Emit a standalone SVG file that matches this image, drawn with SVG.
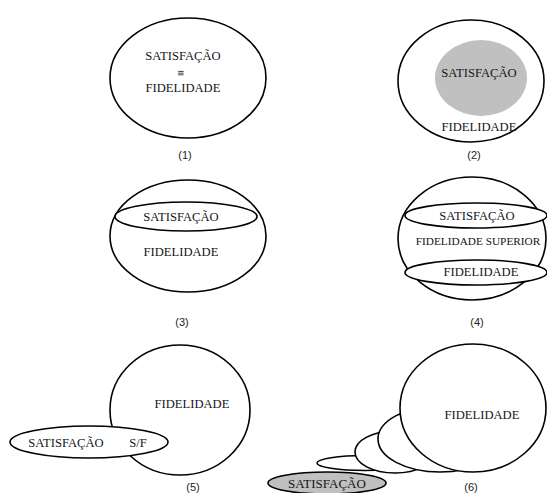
<svg xmlns="http://www.w3.org/2000/svg" width="547" height="493" viewBox="0 0 547 493">
<style>
.o{fill:#fff;stroke:#000;stroke-width:1.6}
.g{fill:#c0c0c0;stroke:none}
.gs{fill:#c0c0c0;stroke:#000;stroke-width:1.6}
.t{font-family:"Liberation Serif","Times New Roman",serif;font-size:12.6px;fill:#141420;text-anchor:middle}
.n{font-family:"Liberation Sans",Arial,sans-serif;font-size:11px;fill:#222;text-anchor:middle}
</style>
<rect width="547" height="493" fill="#fff"/>
<g id="panel1">
<ellipse class="o" cx="188" cy="78" rx="78" ry="60"/>
<text class="t" x="183" y="60">SATISFAÇÃO</text>
<text class="t" x="181" y="76" style="font-size:9px">≅</text>
<text class="t" x="183" y="92">FIDELIDADE</text>
<text class="n" x="185" y="159">(1)</text>
</g>
<g id="panel2">
<ellipse class="o" cx="471" cy="81" rx="73" ry="61"/>
<ellipse class="g" cx="481" cy="78" rx="46" ry="38"/>
<text class="t" x="479" y="77">SATISFAÇÃO</text>
<text class="t" x="479" y="131">FIDELIDADE</text>
<text class="n" x="474" y="159">(2)</text>
</g>
<g id="panel3">
<ellipse class="o" cx="188" cy="236" rx="78" ry="56"/>
<ellipse class="o" cx="186" cy="216.5" rx="71" ry="14.5"/>
<text class="t" x="181" y="221">SATISFAÇÃO</text>
<text class="t" x="181" y="256">FIDELIDADE</text>
<text class="n" x="182" y="326">(3)</text>
</g>
<g id="panel4">
<ellipse class="o" cx="472" cy="238.5" rx="74" ry="61.5"/>
<ellipse class="o" cx="476" cy="215.5" rx="71" ry="12.5"/>
<ellipse class="o" cx="476" cy="272.5" rx="71" ry="12.5"/>
<text class="t" x="477" y="220">SATISFAÇÃO</text>
<text class="t" x="478" y="245" style="font-size:11.3px">FIDELIDADE SUPERIOR</text>
<text class="t" x="481" y="276">FIDELIDADE</text>
<text class="n" x="477" y="326">(4)</text>
</g>
<g id="panel5">
<ellipse class="o" cx="180" cy="410" rx="70" ry="65"/>
<ellipse class="o" cx="89" cy="442" rx="79" ry="16"/>
<text class="t" x="66" y="447">SATISFAÇÃO</text>
<text class="t" x="138" y="447">S/F</text>
<text class="t" x="192" y="408">FIDELIDADE</text>
<text class="n" x="193" y="491">(5)</text>
</g>
<g id="panel6">
<ellipse class="o" cx="365" cy="463" rx="48" ry="7.5"/>
<ellipse class="o" cx="395" cy="452" rx="40" ry="21"/>
<ellipse class="o" cx="440" cy="439" rx="62" ry="33"/>
<ellipse class="o" cx="473" cy="408" rx="73" ry="64"/>
<ellipse class="gs" cx="327" cy="483" rx="59" ry="11"/>
<text class="t" x="327" y="488" style="font-size:13px">SATISFAÇÃO</text>
<text class="t" x="482" y="419">FIDELIDADE</text>
<text class="n" x="471" y="491">(6)</text>
</g>
<g id="connectors"></g>
</svg>
